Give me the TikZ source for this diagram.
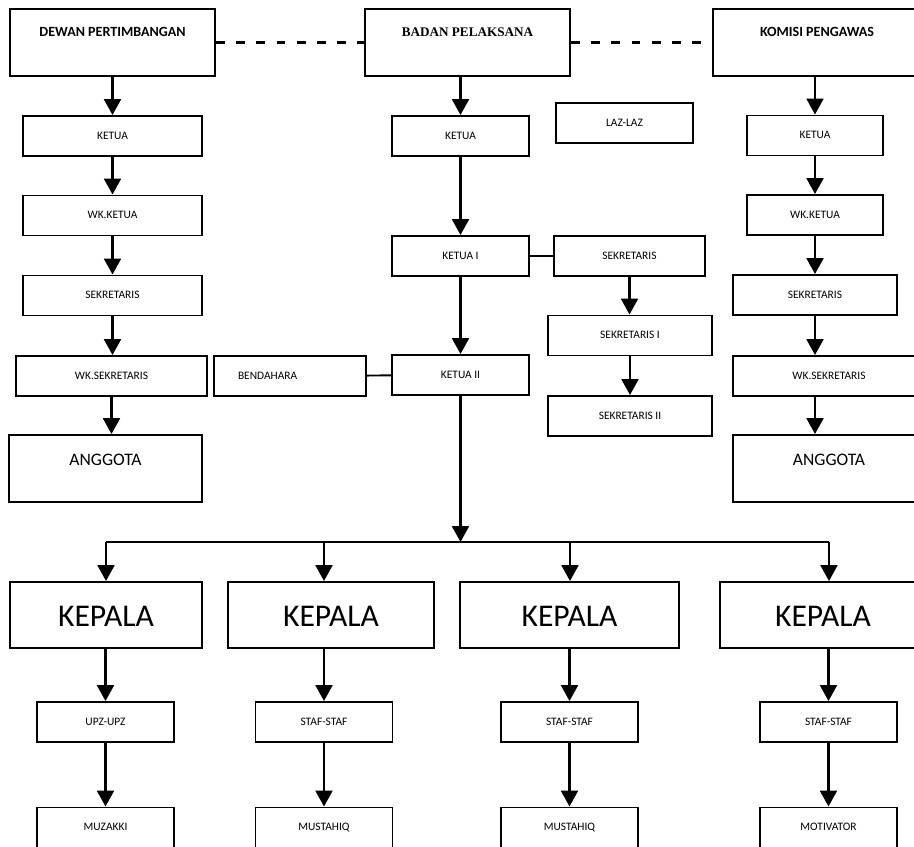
\documentclass[tikz,border=0pt]{standalone}
\usepackage{fontspec}
\setmainfont{Carlito}
\newfontfamily\timesfont{Liberation Serif}
\usetikzlibrary{arrows.meta}

\begin{document}
\begin{tikzpicture}[x=0.02cm, y=-0.02cm,
    box/.style={draw, line width=1.1pt, inner sep=0pt, minimum height=0.8cm, text height=5pt, text depth=1.5pt, font=\fontsize{6.5}{8}\selectfont},
    head/.style={box, text height=0.56cm, text depth=0.78cm, font=\bfseries\fontsize{8}{10}\selectfont},
    member/.style={box, text height=0.62cm, text depth=0.72cm, font=\fontsize{10}{12}\selectfont},
    chief/.style={box, minimum height=1.32cm, text height=13pt, text depth=0pt, font=\fontsize{18}{22}\selectfont},
    arr/.style={-{Triangle[length=9pt,width=9.5pt]}, line width=1.5pt},
    link/.style={line width=1.1pt},
    dashlink/.style={line width=1.3pt, dash pattern=on 5pt off 6.5pt}]
    \useasboundingbox (0,0) rectangle (914,847);
    \clip (0,0) rectangle (914,847);

    % Top
    \node[head, minimum width=4.1cm] (dp) at (112.5,42.5) {DEWAN PERTIMBANGAN};
    \node[head, minimum width=4.1cm, font=\timesfont\bfseries\fontsize{7.5}{9}\selectfont] (bp) at (467.5,42.5) {BADAN PELAKSANA};
    \node[head, minimum width=4.16cm] (kp) at (817,42.5) {KOMISI PENGAWAS};
    \draw[dashlink] (dp) -- (bp);
    \draw[dashlink] (bp) -- (kp);

    % Dewan pertimbangan
    \node[box, minimum width=3.58cm] (dk1) at (112.5,136) {KETUA};
    \node[box, minimum width=3.58cm] (dk2) at (112.5,215.5) {WK.KETUA};
    \node[box, minimum width=3.58cm] (dk3) at (112.5,295.5) {SEKRETARIS};
    \node[box, minimum width=3.82cm] (dk4) at (111.5,376) {WK.SEKRETARIS};
    \node[member, minimum width=3.86cm] (dk5) at (105.5,468.5) {ANGGOTA};
    \draw[arr] (dp.south) -- (dp.south |- dk1.north);
    \draw[arr] (dk1.south) -- (dk1.south |- dk2.north);
    \draw[arr] (dk2.south) -- (dk2.south |- dk3.north);
    \draw[arr] (dk3.south) -- (dk3.south |- dk4.north);
    \draw[arr] (dk4.south) -- (dk4.south |- dk5.north);

    % Badan pelaksana
    \node[box, minimum width=2.74cm] (bk) at (460.5,136) {KETUA};
    \node[box, minimum width=2.74cm] (laz) at (624.5,123) {LAZ-LAZ};
    \node[box, minimum width=2.74cm] (bk1) at (460.5,256) {KETUA I};
    \node[box, minimum width=3.02cm] (bs) at (629.5,256) {SEKRETARIS};
    \node[box, minimum width=3.28cm] (bs1) at (630,335.5) {SEKRETARIS I};
    \node[box, minimum width=3.28cm] (bs2) at (630,416) {SEKRETARIS II};
    \node[box, minimum width=2.74cm] (bk2) at (460.5,375) {KETUA II};
    \node[box, text width=2.08cm, inner xsep=0.48cm, align=left] (ben) at (290,376) {BENDAHARA};
    \draw[arr] (bk.north |- bp.south) -- (bk.north);
    \draw[arr] (bk.south) -- (bk1.north);
    \draw[arr] (bk1.south) -- (bk2.north);
    \draw[link] (bk1) -- (bs);
    \draw[arr] (bs.south) -- (bs.south |- bs1.north);
    \draw[arr] (bs1.south) -- (bs2.north);
    \draw[link] (ben) -- (bk2);

    % Komisi pengawas
    \node[box, minimum width=2.72cm] (kk1) at (815,135.5) {KETUA};
    \node[box, minimum width=2.72cm] (kk2) at (815,215) {WK.KETUA};
    \node[box, minimum width=3.28cm] (kk3) at (815,295) {SEKRETARIS};
    \node[box, minimum width=3.84cm] (kk4) at (829,376) {WK.SEKRETARIS};
    \node[member, minimum width=3.84cm] (kk5) at (829,468.5) {ANGGOTA};
    \draw[arr] (kk1.north |- kp.south) -- (kk1.north);
    \draw[arr] (kk1.south) -- (kk2.north);
    \draw[arr] (kk2.south) -- (kk3.north);
    \draw[arr] (kk3.south) -- (kk3.south |- kk4.north);
    \draw[arr] (kk4.south -| kk3) -- (kk5.north -| kk3);

    % Kepala
    \coordinate (bus) at (460,542);
    \coordinate (b1) at (106,542);
    \coordinate (b2) at (324,542);
    \coordinate (b3) at (570,542);
    \coordinate (b4) at (829,542);
    \node[chief, minimum width=3.84cm] (kep1) at (106,615) {KEPALA};
    \node[chief, minimum width=4.12cm] (kep2) at (331,615) {KEPALA};
    \node[chief, minimum width=4.38cm] (kep3) at (569.5,615) {KEPALA};
    \node[chief, minimum width=4.12cm] (kep4) at (823,615) {KEPALA};
    \draw[arr] (bk2.south) -- (bk2.south |- bus);
    \draw[link] (b1) -- (b4);
    \draw[arr] (b1) -- (b1 |- kep1.north);
    \draw[arr] (b2) -- (b2 |- kep2.north);
    \draw[arr] (b3) -- (b3 |- kep3.north);
    \draw[arr] (b4) -- (b4 |- kep4.north);

    % Staf
    \node[box, minimum width=2.74cm] (sub1) at (105.5,722) {UPZ-UPZ};
    \node[box, minimum width=2.74cm] (sub2) at (324,722) {STAF-STAF};
    \node[box, minimum width=2.74cm] (sub3) at (569.5,722) {STAF-STAF};
    \node[box, minimum width=2.74cm] (sub4) at (828.5,722) {STAF-STAF};
    \node[box, minimum width=2.74cm] (end1) at (105.5,827.5) {MUZAKKI};
    \node[box, minimum width=2.74cm] (end2) at (324,827.5) {MUSTAHIQ};
    \node[box, minimum width=2.74cm] (end3) at (569.5,827.5) {MUSTAHIQ};
    \node[box, minimum width=2.74cm] (end4) at (828.5,827.5) {MOTIVATOR};
    \draw[arr] (sub1.north |- kep1.south) -- (sub1.north);
    \draw[arr] (sub2.north |- kep2.south) -- (sub2.north);
    \draw[arr] (sub3.north |- kep3.south) -- (sub3.north);
    \draw[arr] (sub4.north |- kep4.south) -- (sub4.north);
    \draw[arr] (sub1) -- (end1);
    \draw[arr] (sub2) -- (end2);
    \draw[arr] (sub3) -- (end3);
    \draw[arr] (sub4) -- (end4);
\end{tikzpicture}
\end{document}
